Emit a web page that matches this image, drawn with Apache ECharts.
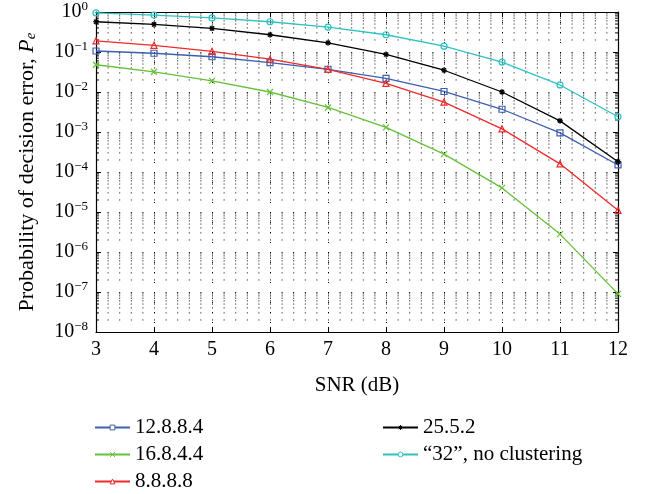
<!DOCTYPE html>
<html>
<head>
    <meta charset="utf-8">
    <style>
        html, body { width: 100%; height: 100%; margin: 0; background: #fff; }
        #chart-panel { width: 654px; height: 494px; }
    </style>
    <script src="https://cdn.jsdelivr.net/npm/echarts@6/dist/echarts.min.js"></script>
</head>
<body>
<div id="chart-panel"></div>
<script type="text/javascript">
  // SNR (dB) on the x axis
  var snr = [3, 4, 5, 6, 7, 8, 9, 10, 11, 12]

  // probability of decision error
  var pe12884 = [0.106, 0.093, 0.076, 0.054, 0.037, 0.022, 0.0103, 0.0037, 0.00095, 0.00015]
  var pe16844 = [0.048, 0.032, 0.019, 0.010, 0.0041, 0.0013, 0.00028, 0.00004, 0.0000028, 0.00000009]
  var pe8888 = [0.19, 0.147, 0.104, 0.066, 0.037, 0.0165, 0.0056, 0.0012, 0.00016, 0.000011]
  var pe2552 = [0.57, 0.49, 0.39, 0.27, 0.17, 0.087, 0.035, 0.010, 0.0019, 0.00018]
  var pe32 = [0.95, 0.84, 0.71, 0.57, 0.42, 0.27, 0.14, 0.056, 0.015, 0.0024]

  var seriesNames = ['12.8.8.4', '16.8.4.4', '8.8.8.8', '25.5.2', '\u201c32\u201d, no clustering']
  var seriesColors = ['#3c5fb0', '#66c03a', '#ee2a2a', '#000000', '#2ec2c2']

  var xMin = 3, xMax = 12
  var yMin = 1e-8, yMax = 1
  var xSteps = 45   // dotted grid: one dot every 0.2 dB

  // minor log grid lines (2..9 x 10^k)
  var minorY = []
  for (var d = -8; d < 0; d++) {
    for (var k = 2; k <= 9; k++) {
      minorY.push([xMin, k * Math.pow(10, d)])
    }
  }

  var font = 'Liberation Serif'

  function pairs(arr) {
    return snr.map(function (x, i) { return [x, arr[i]] })
  }

  function lineSeries(name, data, color, symbol) {
    return {
      name: name,
      type: 'line',
      data: pairs(data),
      symbol: symbol,
      symbolSize: 6,
      showAllSymbol: true,
      lineStyle: { color: color, width: 1.3 },
      itemStyle: { color: 'transparent', borderColor: color, borderWidth: 1.2 },
      z: 5
    }
  }

  function legendBox(names, left) {
    return {
      data: names,
      orient: 'vertical',
      left: left, top: 417,
      padding: 0,
      itemWidth: 35, itemHeight: 6, itemGap: 6,
      itemStyle: { color: '#fff', borderWidth: 1 },
      textStyle: { fontFamily: font, fontSize: 21, lineHeight: 20, color: '#000' }
    }
  }

  var myChart = echarts.init(document.getElementById('chart-panel'))

  var option = {
    animation: false,
    backgroundColor: '#fff',
    textStyle: { fontFamily: font },
    grid: { left: 96, right: 36, top: 9, bottom: 162 },
    legend: [
      legendBox(seriesNames.slice(0, 3), 94),
      legendBox(seriesNames.slice(3), 382)
    ],
    xAxis: [
      {
        type: 'value',
        min: xMin, max: xMax, interval: 1,
        name: 'SNR (dB)',
        nameLocation: 'middle',
        nameGap: 43,
        nameTextStyle: { fontFamily: font, fontSize: 21, color: '#000' },
        axisLine: { lineStyle: { color: '#000', width: 1.2 } },
        axisTick: { inside: true, length: 5, lineStyle: { color: '#000' } },
        axisLabel: { fontFamily: font, fontSize: 20, color: '#000', margin: 8 },
        splitLine: { show: true, lineStyle: { color: '#000', type: [1, 9], width: 1 } }
      },
      {
        type: 'value',
        position: 'top',
        min: xMin, max: xMax, interval: 1,
        axisLine: { show: true, lineStyle: { color: '#000', width: 1.2 } },
        axisTick: { show: true, inside: true, length: 5, lineStyle: { color: '#000' } },
        axisLabel: { show: false },
        splitLine: { show: false }
      }
    ],
    yAxis: [
      {
        type: 'log',
        logBase: 10,
        min: yMin, max: yMax,
        name: 'Probability of decision error, {i|P}{sub|e}',
        nameLocation: 'middle',
        nameGap: 57,
        nameTextStyle: {
          fontFamily: font, fontSize: 22, color: '#000',
          rich: {
            i: { fontFamily: font, fontSize: 22, fontStyle: 'italic', color: '#000' },
            sub: { fontFamily: font, fontSize: 15, fontStyle: 'italic', color: '#000', padding: [8, 0, 0, 0] }
          }
        },
        axisLine: { show: true, lineStyle: { color: '#000', width: 1.2 } },
        axisTick: { inside: true, length: 5, lineStyle: { color: '#000' } },
        axisLabel: {
          margin: 8,
          formatter: function (v) {
            var e = Math.round(Math.log10(v))
            return '{b|10}{s|' + (e < 0 ? '\u2212' + (-e) : e) + '}'
          },
          rich: {
            b: { fontFamily: font, fontSize: 20, color: '#000' },
            s: { fontFamily: font, fontSize: 13, color: '#000', padding: [0, 0, 11, 0] }
          }
        },
        splitLine: {
          show: true,
          lineStyle: { color: '#000', type: [1, 522 / xSteps - 1], width: 1 }
        }
      },
      {
        type: 'log',
        logBase: 10,
        position: 'right',
        min: yMin, max: yMax,
        axisLine: { show: true, lineStyle: { color: '#000', width: 1.2 } },
        axisTick: { show: true, inside: true, length: 5, lineStyle: { color: '#000' } },
        axisLabel: { show: false },
        splitLine: { show: false }
      }
    ],
    series: [
      {
        name: 'minor grid',
        type: 'custom',
        silent: true,
        z: 1,
        clip: false,
        data: minorY,
        renderItem: function (params, api) {
          var y = api.value(1)
          var p0 = api.coord([xMin, y])
          var p1 = api.coord([xMax, y])
          var step = (p1[0] - p0[0]) / xSteps
          return {
            type: 'group',
            children: [
              { type: 'line', shape: { x1: p0[0], y1: p0[1], x2: p1[0] + 1, y2: p1[1] },
                style: { stroke: '#000', lineWidth: 1, lineDash: [1, step - 1] } },
              { type: 'line', shape: { x1: p0[0], y1: p0[1], x2: p0[0] + 3, y2: p0[1] },
                style: { stroke: '#000', lineWidth: 1 } },
              { type: 'line', shape: { x1: p1[0] - 3, y1: p1[1], x2: p1[0], y2: p1[1] },
                style: { stroke: '#000', lineWidth: 1 } }
            ]
          }
        }
      },
      lineSeries(seriesNames[0], pe12884, seriesColors[0], 'rect'),
      lineSeries(seriesNames[1], pe16844, seriesColors[1], 'path://M0,0L10,10M10,0L0,10'),
      lineSeries(seriesNames[2], pe8888, seriesColors[2], 'triangle'),
      lineSeries(seriesNames[3], pe2552, seriesColors[3], 'path://M5,0L5,10M0,5L10,5M1.5,1.5L8.5,8.5M8.5,1.5L1.5,8.5'),
      lineSeries(seriesNames[4], pe32, seriesColors[4], 'circle')
    ]
  }

  myChart.setOption(option)
</script>
</body>
</html>
